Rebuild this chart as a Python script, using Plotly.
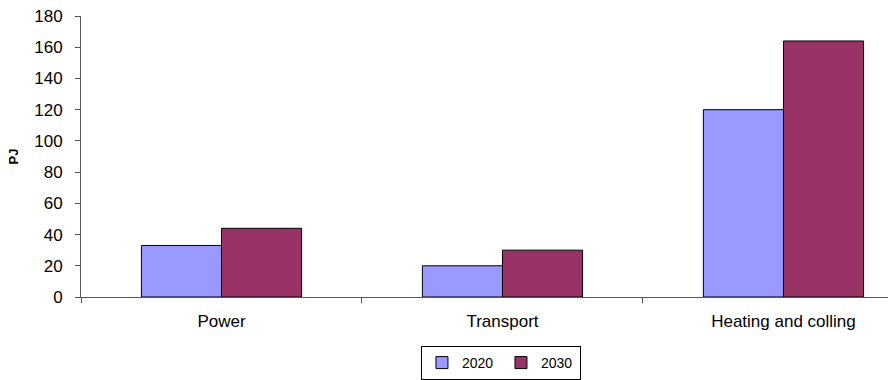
import plotly.graph_objects as go

categories = ["Power", "Transport", "Heating and colling"]
values_2020 = [33, 20, 120]
values_2030 = [44, 30, 164]
series_names = ["2020", "2030"]
y_ticks = [0, 20, 40, 60, 80, 100, 120, 140, 160, 180]

FONT = "Liberation Sans, Arial, sans-serif"

fig = go.Figure()
fig.add_trace(go.Bar(x=categories, y=values_2020, name=series_names[0],
                     marker=dict(color="#9999FF", line=dict(color="#000000", width=1))))
fig.add_trace(go.Bar(x=categories, y=values_2030, name=series_names[1],
                     marker=dict(color="#993366", line=dict(color="#000000", width=1))))

fig.update_layout(
    width=888, height=380,
    margin=dict(l=81, r=0, t=16, b=82),
    paper_bgcolor="white", plot_bgcolor="white",
    barmode="group", bargap=0.43, bargroupgap=0,
    font=dict(family=FONT, size=17, color="#000000"),
    showlegend=True,
    legend=dict(orientation="h", x=0.5204, xanchor="center", y=-0.236, yanchor="middle",
                bordercolor="#000000", borderwidth=1, bgcolor="white",
                font=dict(size=14, family=FONT), itemwidth=30,
                entrywidth=34, tracegroupgap=0),
)
fig.update_xaxes(
    type="category", range=[-0.5, 2.372],
    showline=True, linecolor="#555555", linewidth=1,
    ticks="outside", tickson="boundaries", ticklen=5, tickcolor="#555555",
    showgrid=False, tickfont=dict(size=17, family=FONT),
    ticklabelstandoff=9,
)
fig.update_yaxes(
    range=[0, 180], tickvals=y_ticks,
    showline=True, linecolor="#555555", linewidth=1,
    ticks="outside", ticklen=5, tickcolor="#555555",
    showgrid=False, zeroline=False,
    tickfont=dict(size=17, family=FONT),
    ticklabelstandoff=9,
    title=dict(text="<b>PJ</b>", font=dict(size=13, family=FONT), standoff=12),
)

fig.write_html("out.html")
